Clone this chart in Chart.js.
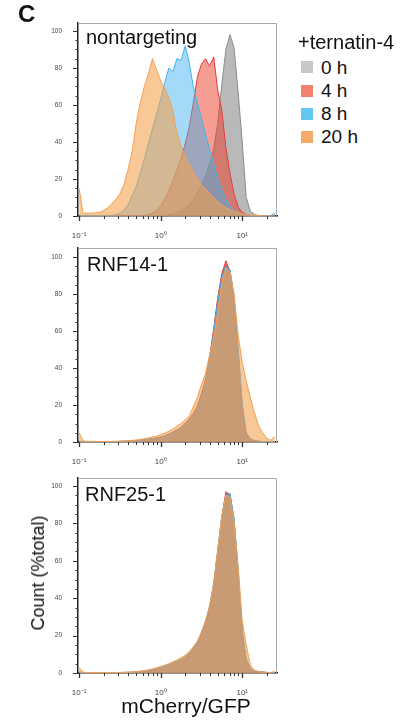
<!DOCTYPE html>
<html><head><meta charset="utf-8">
<script src="https://cdn.jsdelivr.net/npm/chart.js@4.4.1/dist/chart.umd.min.js"></script>
<style>
html,body{margin:0;padding:0;background:#fff;}
body{width:405px;height:725px;position:relative;overflow:hidden;font-family:'Liberation Sans',Arial,Helvetica,sans-serif;color:#111;}
canvas{position:absolute;left:0;}
.t{position:absolute;line-height:1;white-space:nowrap;}
.lg{position:absolute;left:301px;width:12px;height:12px;}
</style></head><body>
<canvas id="c0" width="290" height="220" style="top:18px"></canvas>
<canvas id="c1" width="290" height="221" style="top:243px"></canvas>
<canvas id="c2" width="290" height="222" style="top:473px"></canvas>
<div class="t" style="left:18px;top:2px;font-size:24px;font-weight:bold">C</div>
<div id="labels"></div>
<div class="t" style="left:86px;top:695px;width:200px;text-align:center;font-size:21px">mCherry/GFP</div>
<div class="t" style="left:38px;top:573px;font-size:18px;transform:translate(-50%,-50%) rotate(-90deg)">Count (%total)</div>
<div id="legend"></div>
<script>
// ---------- data ----------
const legendTitle = '+ternatin-4';
const timepoints = ['0 h', '4 h', '8 h', '20 h'];
const panelNames = ['nontargeting', 'RNF14-1', 'RNF25-1'];
const mCherryGFP = [0.1,0.112,0.126,0.141,0.158,0.178,0.2,0.224,0.251,0.282,0.316,0.355,0.398,0.447,0.501,0.562,0.631,0.708,0.794,0.891,1,1.12,1.26,1.41,1.58,1.78,2,2.24,2.51,2.82,3.16,3.55,3.98,4.47,5.01,5.62,6.31,7.08,7.94,8.91,10,11.2,12.6,14.1,15.8,17.8,20,22.4,25.1];

const ntg_0h = [0.2,0.2,0.2,0.2,0.2,0.2,0.2,0.2,0.2,0.2,0.2,0.2,0.2,0.2,0.2,0.2,0.2,0.2,0.2,0.2,0.2,0.2,0.8,1.3,2,3,4.2,5.8,8.5,12.5,16.5,21.5,28,36,50,71,90,98,91,67,40,10,2.5,0.8,0.3,0.2,0.2,0.2,0.2];
const ntg_4h = [0.2,0.2,0.2,0.2,0.2,0.2,0.2,0.2,0.2,0.2,0.2,0.2,0.2,0.2,0.2,0.2,0.4,0.7,1.5,3,5.5,9,13.5,19,25,31,39,48,61,75,82,85,81,86,68,57,37,23,12,5,2,0.8,0.3,0.2,0.2,0.2,0.2,0.2,0.2];
const ntg_8h = [0.5,0.3,0.3,0.3,0.3,0.3,0.3,0.3,0.3,0.8,1.5,3,6,11,16,23,31,39,47,55,63,72,80,78,85,84,92,83,70,61,53,44,36,28,20,14,9,5,3,1.8,1,0.6,0.3,0.2,0.2,0.2,0.2,0.3,1.5];
const ntg_20h = [15,1.5,1.5,1.5,1.8,2,3,4.5,6.5,9,12,17,25,35,50,61,70,77,85,79,73,69,64,57,45,38,32,28,24,20,17,14.5,12,10,7.5,6,4.5,3.5,2.5,1.8,1.2,0.8,0.5,0.3,0.2,0.1,0.1,0,0];

const rnf14_0h = [0.5,0.2,0.2,0.2,0.2,0.2,0.2,0.2,0.2,0.2,0.3,0.4,0.5,0.6,0.8,1,1.2,1.4,1.7,2.1,2.6,3.2,4.2,5.3,6.4,8,10,12,15,19,25,33,45,60,77,90,96,93,78,50,20,4,1.5,0.8,0.4,0.2,0.2,0.2,0.3];
const rnf14_4h = [0.3,0.2,0.2,0.2,0.2,0.2,0.2,0.2,0.2,0.2,0.3,0.4,0.5,0.6,0.8,1,1.2,1.5,1.8,2.2,2.7,3.3,4.3,5.4,6.5,8,10,12.5,15.5,19.5,26,34,46,61,78,91,98,92,76,48,18,4,1.5,0.7,0.4,0.2,0.2,0.2,0.2];
const rnf14_8h = [0.3,0.2,0.2,0.2,0.2,0.2,0.2,0.2,0.2,0.2,0.3,0.4,0.5,0.6,0.8,1,1.2,1.4,1.7,2.1,2.6,3.2,4.1,5.2,6.3,7.8,9.7,11.8,14.8,18.8,24.5,32,44,59,76,89,95,93,79,51,21,5,1.8,0.8,0.4,0.2,0.2,0.2,0.2];
const rnf14_20h = [5,0.5,0.4,0.3,0.3,0.3,0.3,0.3,0.3,0.3,0.5,0.6,0.7,0.9,1.1,1.4,1.8,2.2,2.7,3.2,4,4.8,5.8,7,8.5,10,12,14,19,24,31,37,47,56,70,86,94,92,80,58,43,33,24,16,9,5,2,1,3];

const rnf25_0h = [0.5,0.2,0.2,0.2,0.2,0.2,0.2,0.2,0.2,0.2,0.2,0.3,0.3,0.4,0.6,0.8,1.1,1.4,1.8,2.4,3,3.6,4.4,5.3,6.2,7.3,8.5,10.5,13,16,21,27,35,47,65,83,96,96,82,54,22,7,2.5,1.2,0.8,0.5,0.3,0.2,0.2];
const rnf25_4h = [0.3,0.2,0.2,0.2,0.2,0.2,0.2,0.2,0.2,0.2,0.2,0.3,0.3,0.4,0.6,0.8,1,1.3,1.7,2.3,2.9,3.5,4.3,5.2,6.1,7.2,8.4,10.3,12.8,15.8,20.5,26.5,34.5,46,64,83,97,95,81,53,21,6.5,2.3,1.1,0.7,0.4,0.3,0.2,0.2];
const rnf25_8h = [0.3,0.2,0.2,0.2,0.2,0.2,0.2,0.2,0.2,0.2,0.2,0.3,0.3,0.4,0.6,0.8,1.1,1.4,1.8,2.4,3,3.6,4.4,5.3,6.2,7.3,8.6,10.6,13.2,16.3,21.5,27.5,35.5,48,66,84,95,96,83,56,23,7.5,2.6,1.2,0.8,0.5,0.3,0.2,0.2];
const rnf25_20h = [3,0.4,0.3,0.3,0.3,0.3,0.3,0.3,0.3,0.3,0.3,0.4,0.5,0.6,0.8,1,1.3,1.7,2.2,2.8,3.5,4.2,5,6,7,8.2,9.5,11.5,14,17,22,28,36,48,66,84,95,94,81,57,28,15,4.3,1.5,0.8,0.5,0.3,0.3,0.8];

const xMajorTicks = [0.1, 1, 10];
const xTickLabels = ['10\u207B\u00B9', '10\u2070', '10\u00B9'];
const xMinorTicks = [0.2,0.3,0.4,0.5,0.6,0.7,0.8,0.9,2,3,4,5,6,7,8,9,20];
const yMajorTicks = [0, 20, 40, 60, 80, 100];
const yMinorTicks = [5,10,15,25,30,35,45,50,55,65,70,75,85,90,95];

const panels = [
  [ntg_0h, ntg_4h, ntg_8h, ntg_20h],
  [rnf14_0h, rnf14_4h, rnf14_8h, rnf14_20h],
  [rnf25_0h, rnf25_4h, rnf25_8h, rnf25_20h]
];

// ---------- style ----------
const fills = ['rgba(115,115,115,0.5)', 'rgba(235,60,40,0.5)', 'rgba(65,178,238,0.48)', 'rgba(245,160,75,0.58)'];
const lines = ['#8a8a8a', '#e8393a', '#3db4ee', '#f3a052'];
const legendColors = ['#c8c8c8', '#f2826e', '#62c8f2', '#f5ab68'];
const yMax = [104.3, 104.9, 104.3];
const labelTops = [26.5, 254, 484];
const labelLefts = [86, 87, 85];

Chart.defaults.font.family = "'Liberation Sans', Arial, sans-serif";

const framePlugin = {
  id: 'frame',
  afterDraw(chart) {
    const {ctx, chartArea: a, scales: {x, y}} = chart;
    ctx.save();
    ctx.strokeStyle = '#a9a9a9';
    ctx.lineWidth = 1;
    ctx.beginPath();
    ctx.moveTo(a.left, a.top + 0.5);
    ctx.lineTo(a.right - 0.5, a.top + 0.5);
    ctx.lineTo(a.right - 0.5, a.bottom);
    ctx.stroke();
    ctx.strokeStyle = '#333';
    ctx.lineWidth = 1;
    const seg = (x1, y1, x2, y2) => { ctx.beginPath(); ctx.moveTo(x1, y1); ctx.lineTo(x2, y2); ctx.stroke(); };
    yMajorTicks.forEach(v => { const p = Math.round(y.getPixelForValue(v)) + 0.5; seg(a.left - 5, p, a.left, p); });
    yMinorTicks.forEach(v => { const p = Math.round(y.getPixelForValue(v)) + 0.5; seg(a.left - 2.5, p, a.left, p); });
    ctx.lineWidth = 1.3;
    xMajorTicks.forEach(v => { const p = Math.round(x.getPixelForValue(v)) + 0.5; if (p >= a.left - 1 && p <= a.right) seg(p, a.bottom, p, a.bottom + 5); });
    ctx.lineWidth = 1;
    xMinorTicks.forEach(v => { const p = Math.round(x.getPixelForValue(v)) + 0.5; if (p >= a.left && p <= a.right) seg(p, a.bottom, p, a.bottom + 3); });
    ctx.restore();
  }
};

panels.forEach((series, pi) => {
  const datasets = series.map((vals, si) => ({
    label: timepoints[si],
    data: mCherryGFP.map((xv, i) => ({x: xv, y: vals[i]})),
    backgroundColor: fills[si],
    borderColor: lines[si],
    borderWidth: 1,
    pointRadius: 0,
    tension: 0,
    fill: 'origin',
    order: 4 - si
  }));
  new Chart(document.getElementById('c' + pi), {
    type: 'line',
    data: {datasets},
    plugins: [framePlugin],
    options: {
      responsive: false,
      animation: false,
      devicePixelRatio: 1,
      layout: {padding: {top: 5, right: 13, left: 0, bottom: 0}},
      plugins: {legend: {display: false}, tooltip: {enabled: false}},
      scales: {
        x: {
          type: 'logarithmic', min: 0.097, max: 26.7, z: 1,
          afterBuildTicks: s => { s.ticks = xMajorTicks.map(v => ({value: v})); },
          afterFit: s => { s.height = 22; s.paddingLeft = 0; s.paddingRight = 0; },
          grid: {display: false},
          border: {display: true, color: '#222', width: 1.5},
          ticks: {autoSkip: false, maxRotation: 0, minRotation: 0, padding: 7, color: '#444', font: {size: 8},
            callback: v => { const k = xMajorTicks.indexOf(v); return k >= 0 ? xTickLabels[k] : ''; }}
        },
        y: {
          type: 'linear', min: 0, max: yMax[pi], z: 1,
          afterBuildTicks: s => { s.ticks = yMajorTicks.map(v => ({value: v})); },
          afterFit: s => { s.width = 78; s.paddingTop = 0; s.paddingBottom = 0; },
          grid: {display: false},
          border: {display: true, color: '#222', width: 1.5},
          ticks: {padding: 8, color: '#444', font: {size: 6.5}}
        }
      }
    }
  });
  const d = document.createElement('div');
  d.className = 't';
  d.style.cssText = 'left:' + labelLefts[pi] + 'px;top:' + labelTops[pi] + 'px;font-size:20px;';
  d.textContent = panelNames[pi];
  document.getElementById('labels').appendChild(d);
});

// legend
const lg = document.getElementById('legend');
const title = document.createElement('div');
title.className = 't';
title.style.cssText = 'left:298px;top:32px;font-size:20px;';
title.textContent = legendTitle;
lg.appendChild(title);
const rowY = [67, 90.5, 113.5, 136.5];
timepoints.forEach((tp, i) => {
  const b = document.createElement('div');
  b.className = 'lg';
  b.style.top = (rowY[i] - 6) + 'px';
  b.style.background = legendColors[i];
  lg.appendChild(b);
  const t = document.createElement('div');
  t.className = 't';
  t.style.cssText = 'left:321px;top:' + (rowY[i] - 9.5) + 'px;font-size:19px;';
  t.textContent = tp;
  lg.appendChild(t);
});
</script>
</body></html>
